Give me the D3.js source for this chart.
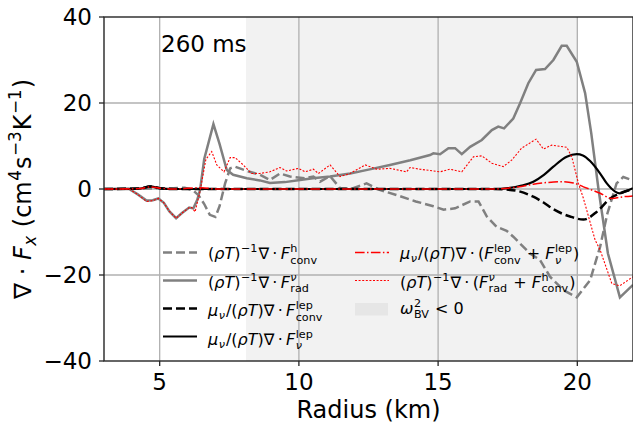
<!DOCTYPE html>
<head>
    <meta charset="utf-8">
    <script src="https://d3js.org/d3.v7.min.js"></script>
    <style>
        body { margin: 0; }
        text { font-family: "DejaVu Sans", sans-serif; white-space: pre; }
    </style>
</head>
<body>
<script>
    ////////////// Data //////////////

    const xTicks = [5, 10, 15, 20]
    const yTicks = [-40, -20, 0, 20, 40]
    const unstableZone = [8.1, 20]   // omega_BV^2 < 0
    const timeLabel = "260 ms"

    // [radius km, value]
    const convH = [[3,0],[4.5,0.1],[5.0,0.2],[5.5,0.2],[5.9,0.3],[6.2,-0.3],[6.4,-1.5],[6.6,-3.5],[6.8,-6.0],[7.0,-6.5],
        [7.15,-4],[7.35,1.3],[7.53,4.8],[7.7,5.2],[8.13,4.2],[8.6,3.3],[8.96,2.1],[9.32,3.6],[9.68,2.9],[10.22,2.5],
        [10.52,2.9],[10.76,1.7],[11.12,3.0],[11.48,0.2],[11.95,0.2],[12.43,1.3],[12.9,-0.2],[13.5,-1.4],[14.2,-2.9],
        [14.83,-4.0],[15.2,-4.8],[15.61,-4.5],[16.15,-2.9],[16.45,-2.9],[16.75,-6.4],[17.1,-8.8],[17.46,-9.7],
        [17.7,-11.1],[18.3,-15.0],[18.66,-16.5],[19.02,-20.4],[19.5,-23.5],[19.98,-25.2],[20.46,-21.2],[20.82,-13.4],
        [21.08,-5.7],[21.41,1.3],[21.65,2.8],[22,2.0]]

    const radNu = [[3,0],[3.9,0],[4.2,-1.2],[4.53,-2.7],[4.75,-2.6],[4.95,-2.2],[5.15,-3.2],[5.35,-5.2],[5.59,-6.8],
        [5.8,-5.6],[6.06,-4.3],[6.21,-4.5],[6.35,-2.5],[6.45,-0.2],[6.6,7],[6.93,15.1],[7.15,10.5],[7.41,4.4],
        [7.64,3.3],[8.13,2.5],[8.6,2.0],[8.96,1.4],[9.5,1.6],[10.04,2.1],[10.5,2.5],[11.12,2.9],[11.84,3.6],
        [12.5,4.5],[13.27,5.6],[14.0,6.7],[14.71,7.9],[14.83,8.3],[15.07,8.1],[15.37,9.5],[15.61,9.5],[15.85,8.1],
        [16.15,9.8],[16.57,11.4],[16.93,13.7],[17.16,14.5],[17.37,14.1],[17.7,16.4],[17.94,19.9],[18.24,24.6],
        [18.52,27.7],[18.84,27.9],[19.14,30.0],[19.44,33.3],[19.62,33.3],[19.98,29.6],[20.28,22.3],[20.5,13],
        [20.76,0],[21.1,-15],[21.53,-25.2],[22,-22.3]]

    const convLep = [[3,0],[4.3,0.1],[4.65,0.6],[5.0,0.2],[5.5,0],[17.0,0],[17.4,-0.1],[17.82,-0.4],[18.42,-1.8],
        [18.8,-3.2],[19.14,-4.7],[19.74,-6.4],[20.22,-7.1],[20.7,-5.3],[21.18,-2.2],[21.53,-1.0],[22,-0.1]]

    const nuLep = [[3,0],[4.3,0.1],[4.65,0.6],[5.0,0.2],[5.5,0],[17.0,0],[17.5,0.2],[18.0,0.8],[18.42,1.7],
        [18.8,3.3],[19.14,5.2],[19.62,7.5],[19.98,8.1],[20.2,7.8],[20.46,6.5],[20.82,3.6],[21.06,1.3],
        [21.36,-0.6],[21.53,-1.0],[21.75,-0.5],[22,0.2]]

    const lepSum = [[3,0],[4.3,0.1],[4.65,0.5],[5.0,0.2],[5.5,0],[6.5,0.3],[7,0],[17.0,0],[17.5,0.2],[18.0,0.6],
        [18.42,1.1],[18.9,1.5],[19.38,1.7],[19.86,1.4],[20.22,0.5],[20.82,-1.0],[21.24,-2.2],[21.65,-1.8],[22,-1.6]]

    const heatSum = [[3,0],[3.9,0],[4.2,-1.2],[4.53,-2.9],[4.75,-2.7],[4.95,-2.2],[5.15,-3.2],[5.35,-5.2],[5.59,-6.8],
        [5.8,-5.6],[6.06,-4.3],[6.15,-4.3],[6.27,-5.3],[6.45,-0.5],[6.66,6.9],[6.87,8.7],[7.05,5.6],[7.31,4.0],
        [7.53,7.3],[7.71,7.3],[8.0,5.6],[8.3,3.6],[8.6,3.6],[8.96,4.0],[9.32,5.0],[9.56,4.2],[9.98,4.8],[10.22,4.0],
        [10.52,4.6],[10.7,3.6],[11.12,5.6],[11.48,2.9],[11.84,3.6],[12.38,5.6],[12.8,4.6],[13.27,4.8],[13.87,4.0],
        [13.99,5.0],[14.35,4.6],[15.07,4.0],[15.43,4.6],[15.85,4.0],[16.27,7.5],[16.57,7.7],[16.93,6.0],[17.34,5.2],
        [17.64,6.7],[18.0,9.5],[18.52,11.6],[18.78,9.3],[19.08,10.2],[19.62,9.7],[19.8,7.5],[20.04,1.3],[20.22,-2.2],
        [20.64,-11.9],[20.82,-14.2],[21.24,-22.0],[21.53,-22.5],[22,-20.4]]

    ////////////// Series styles + legend labels //////////////

    const nab = "\u2207\u2009\u00b7\u2009"
    const series = [
        { data: convH, color: "#808080", width: 2.5, dash: "9,4", smooth: false,
          label: ["(", {i: "\u03c1T"}, ")", {sup: "\u22121"}, nab, {i: "F"}, {sup: "h", sub: "conv"}] },
        { data: radNu, color: "#808080", width: 2.5, dash: null, smooth: false,
          label: ["(", {i: "\u03c1T"}, ")", {sup: "\u22121"}, nab, {i: "F"}, {sup: "\u03bd", supI: true, sub: "rad"}] },
        { data: convLep, color: "#000", width: 2.5, dash: "9,4", smooth: true,
          label: [{i: "\u03bc"}, {sub: "\u03bd", subI: true}, "/(", {i: "\u03c1T"}, ")", nab, {i: "F"}, {sup: "lep", sub: "conv"}] },
        { data: nuLep, color: "#000", width: 2.2, dash: null, smooth: true,
          label: [{i: "\u03bc"}, {sub: "\u03bd", subI: true}, "/(", {i: "\u03c1T"}, ")", nab, {i: "F"}, {sup: "lep", sub: "\u03bd", subI: true}] },
        { data: lepSum, color: "#ff0000", width: 1.5, dash: "9.6,2.4,1.5,2.4", smooth: true,
          label: [{i: "\u03bc"}, {sub: "\u03bd", subI: true}, "/(", {i: "\u03c1T"}, ")", nab, "(", {i: "F"}, {sup: "lep", sub: "conv"},
                  " + ", {i: "F"}, {sup: "lep", sub: "\u03bd", subI: true}, ")"] },
        { data: heatSum, color: "#ff0000", width: 1.1, dash: "2,1.6", smooth: false,
          label: ["(", {i: "\u03c1T"}, ")", {sup: "\u22121"}, nab, "(", {i: "F"}, {sup: "\u03bd", supI: true, sub: "rad"},
                  " + ", {i: "F"}, {sup: "h", sub: "conv"}, ")"] }
    ]
    const zoneLabel = [{i: "\u03c9"}, {sup: "2", sub: "BV"}, " < 0"]

    ////////////// SVG + scales //////////////

    let width = 633,
        height = 427

    let svg = d3.select("body").append("svg")
        .attr("width", width)
        .attr("height", height)

    const x_scale = d3.scaleLinear().domain([3, 22]).range([104, 633])
    const y_scale = d3.scaleLinear().domain([-40, 40]).range([361, 17])

    //draw a mathtext-like label from parts, returns its width
    function mathLabel(g, x, y, parts, fs) {
        let cx = x
        parts.forEach(p => {
            if (typeof p === "string" || p.i !== undefined) {
                const t = g.append("text").attr("x", cx).attr("y", y)
                    .style("font-size", fs + "px")
                    .style("font-style", typeof p === "string" ? "normal" : "italic")
                    .text(typeof p === "string" ? p : p.i)
                cx += t.node().getComputedTextLength()
            } else {
                let w = 0
                const both = p.sup !== undefined && p.sub !== undefined
                if (p.sup !== undefined) {
                    const t = g.append("text").attr("x", cx + 0.5).attr("y", y - fs * 0.42)
                        .style("font-size", fs * 0.7 + "px")
                        .style("font-style", p.supI ? "italic" : "normal").text(p.sup)
                    w = Math.max(w, t.node().getComputedTextLength())
                }
                if (p.sub !== undefined) {
                    const t = g.append("text").attr("x", cx + 0.5).attr("y", y + fs * (both ? 0.3 : 0.2))
                        .style("font-size", fs * 0.7 + "px")
                        .style("font-style", p.subI ? "italic" : "normal").text(p.sub)
                    w = Math.max(w, t.node().getComputedTextLength())
                }
                cx += w + 1.5
            }
        })
        return cx - x
    }

    ////////////// Background, grid, axes //////////////

    svg.append("rect")
        .attr("x", x_scale(unstableZone[0])).attr("y", y_scale(40))
        .attr("width", x_scale(unstableZone[1]) - x_scale(unstableZone[0]))
        .attr("height", y_scale(-40) - y_scale(40))
        .attr("fill", "#f2f2f2")

    svg.append("g").selectAll("line").data(xTicks).enter().append("line")
        .attr("x1", d => x_scale(d)).attr("x2", d => x_scale(d))
        .attr("y1", y_scale(40)).attr("y2", y_scale(-40))
        .attr("stroke", "#b0b0b0").attr("stroke-width", 1.3)
    svg.append("g").selectAll("line").data(yTicks.filter(d => Math.abs(d) < 40)).enter().append("line")
        .attr("x1", x_scale(3)).attr("x2", x_scale(22))
        .attr("y1", d => y_scale(d)).attr("y2", d => y_scale(d))
        .attr("stroke", "#b0b0b0").attr("stroke-width", 1.3)

    ////////////// Curves //////////////

    let plot = svg.append("g")
    series.forEach(s => {
        const line = d3.line()
            .x(d => x_scale(d[0])).y(d => y_scale(d[1]))
            .curve(s.smooth ? d3.curveMonotoneX : d3.curveLinear)
        plot.append("path").datum(s.data)
            .attr("d", line)
            .attr("fill", "none")
            .attr("stroke", s.color)
            .attr("stroke-width", s.width)
            .attr("stroke-dasharray", s.dash)
    })

    ////////////// Frame + ticks //////////////

    const spine = "#262626"
    svg.append("rect")
        .attr("x", x_scale(3)).attr("y", y_scale(40))
        .attr("width", x_scale(22) - x_scale(3)).attr("height", y_scale(-40) - y_scale(40))
        .attr("fill", "none").attr("stroke", spine).attr("stroke-width", 1.4)

    xTicks.forEach(t => {
        svg.append("line").attr("x1", x_scale(t)).attr("x2", x_scale(t))
            .attr("y1", y_scale(-40)).attr("y2", y_scale(-40) + 5)
            .attr("stroke", spine).attr("stroke-width", 1.3)
        svg.append("text").attr("x", x_scale(t)).attr("y", 390)
            .attr("text-anchor", "middle").style("font-size", "23px").text(t)
    })
    yTicks.forEach(t => {
        svg.append("line").attr("x1", x_scale(3) - 5).attr("x2", x_scale(3))
            .attr("y1", y_scale(t)).attr("y2", y_scale(t))
            .attr("stroke", spine).attr("stroke-width", 1.3)
        svg.append("text").attr("x", 92).attr("y", y_scale(t) + 8.3)
            .attr("text-anchor", "end").style("font-size", "23px")
            .text(t < 0 ? "\u2212" + Math.abs(t) : t)
    })

    svg.append("text").attr("x", x_scale(12.5)).attr("y", 418)
        .attr("text-anchor", "middle").style("font-size", "24px").text("Radius (km)")

    let ylab = svg.append("g").attr("transform", "translate(31," + y_scale(0) + ") rotate(-90)")
    let ylabInner = ylab.append("g")
    const yw = mathLabel(ylabInner, 0, 0,
        ["\u2207 \u00b7 ", {i: "F"}, {sub: "x", subI: true}, " (cm", {sup: "4"}, "s", {sup: "\u22123"}, "K", {sup: "\u22121"}, ")"], 24)
    ylabInner.attr("transform", "translate(" + (-yw / 2) + ",0)")

    svg.append("text").attr("x", 161).attr("y", 51.5).style("font-size", "23px").text(timeLabel)

    ////////////// Legend //////////////

    const legFs = 16
    const cols = [{hx: 163, tx: 208}, {hx: 355, tx: 400}]
    const rowsY = [[252.5, 259], [280.5, 287.5], [308.5, 316], [336.5, 344.5]]
    let legend = svg.append("g")
    series.forEach((s, i) => {
        const col = i < 4 ? cols[0] : cols[1]
        const row = i < 4 ? rowsY[i] : rowsY[i - 4]
        legend.append("line")
            .attr("x1", col.hx).attr("x2", col.hx + 34)
            .attr("y1", row[0]).attr("y2", row[0])
            .attr("stroke", s.color).attr("stroke-width", s.width)
            .attr("stroke-dasharray", s.dash)
        mathLabel(legend, col.tx, row[1], s.label, legFs)
    })
    legend.append("rect").attr("x", 355).attr("y", 303).attr("width", 33).attr("height", 12.5)
        .attr("fill", "#e6e6e6")
    mathLabel(legend, 400, 313.5, zoneLabel, legFs)
</script>
</body>
